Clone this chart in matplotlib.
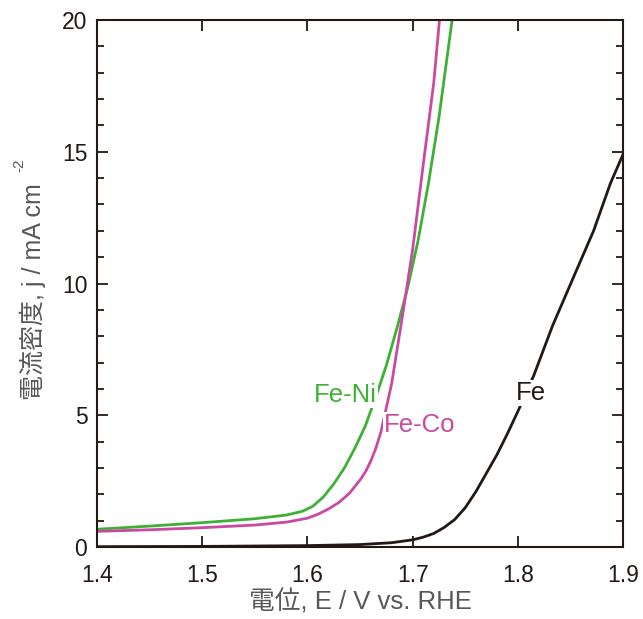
import matplotlib
matplotlib.use('Agg')
import matplotlib.pyplot as plt
from matplotlib.ticker import MultipleLocator

plt.rcParams['font.family'] = ['Liberation Sans', 'Noto Sans CJK JP', 'DejaVu Sans']

# values
fe_ni_x = [1.40, 1.45, 1.50, 1.55, 1.58, 1.595, 1.605, 1.615, 1.625, 1.635, 1.645, 1.655,
           1.665, 1.675, 1.685, 1.695, 1.705, 1.715, 1.725, 1.7375]
fe_ni_j = [0.68, 0.80, 0.93, 1.08, 1.22, 1.36, 1.55, 1.90, 2.40, 3.0, 3.75, 4.6,
           5.7, 6.9, 8.3, 9.8, 11.6, 13.8, 16.3, 20.0]

fe_co_x = [1.40, 1.45, 1.50, 1.55, 1.58, 1.60, 1.61, 1.62, 1.63, 1.64, 1.65, 1.655,
           1.66, 1.665, 1.67, 1.68, 1.69, 1.70, 1.71, 1.72, 1.7255]
fe_co_j = [0.60, 0.66, 0.74, 0.84, 0.95, 1.10, 1.25, 1.45, 1.70, 2.05, 2.55, 2.85,
           3.25, 3.75, 4.4, 6.2, 8.7, 11.3, 14.5, 17.6, 20.0]

fe_x = [1.40, 1.50, 1.60, 1.65, 1.68, 1.70, 1.71, 1.72, 1.73, 1.74, 1.75, 1.76,
        1.77, 1.78, 1.79, 1.80, 1.815, 1.833, 1.853, 1.872, 1.888, 1.90]
fe_j = [0.02, 0.03, 0.06, 0.10, 0.17, 0.28, 0.38, 0.52, 0.75, 1.05, 1.5, 2.1,
        2.8, 3.5, 4.3, 5.15, 6.5, 8.4, 10.25, 12.0, 13.8, 14.9]

xticks = [1.4, 1.5, 1.6, 1.7, 1.8, 1.9]
yticks = [0, 5, 10, 15, 20]

green = '#3eb135'
pink = '#c94aa0'
black = '#231815'
gray = '#595757'

fig = plt.figure(figsize=(6.43, 6.19), dpi=100)
ax = fig.add_axes([0.151, 0.116, 0.818, 0.852])

ax.plot(fe_ni_x, fe_ni_j, color=green, lw=2.0, zorder=2)
ax.plot(fe_co_x, fe_co_j, color=pink, lw=2.0, zorder=2)
ax.plot(fe_x, fe_j, color=black, lw=2.0, zorder=2)

box = dict(facecolor='white', edgecolor='none', pad=1)
ax.text(1.636, 5.77, 'Fe-Ni', color=green, fontsize=18.5, ha='center', va='center', bbox=box, zorder=3)
ax.text(1.707, 4.63, 'Fe-Co', color=pink, fontsize=18.5, ha='center', va='center', bbox=box, zorder=3)
ax.text(1.812, 5.84, 'Fe', color=black, fontsize=18.5, ha='center', va='center', bbox=box, zorder=3)

ax.set_xlim(1.4, 1.9)
ax.set_ylim(0, 20)
ax.set_xticks(xticks)
ax.set_xticklabels([str(t) for t in xticks])
ax.set_yticks(yticks)
ax.yaxis.set_minor_locator(MultipleLocator(1))
ax.tick_params(which='both', direction='in', top=True, right=True, colors=black,
               labelsize=16.5, width=1.3)
ax.tick_params(which='major', length=8)
ax.tick_params(axis='x', pad=12)
ax.tick_params(axis='y', pad=7)
ax.tick_params(which='minor', length=5)
for s in ax.spines.values():
    s.set_linewidth(1.5)
    s.set_color(black)

ax.set_xlabel('電位, E / V vs. RHE', fontsize=18.5, color=gray, labelpad=2)
fig.text(33 / 643, 1 - 292 / 619, '電流密度, j / mA cm', fontsize=18, color=gray,
         rotation=90, ha='center', va='center')
fig.text(19 / 643, 1 - 165 / 619, '-2', fontsize=11, color=gray,
         rotation=90, ha='center', va='center')

plt.savefig('out.png', dpi=100)
